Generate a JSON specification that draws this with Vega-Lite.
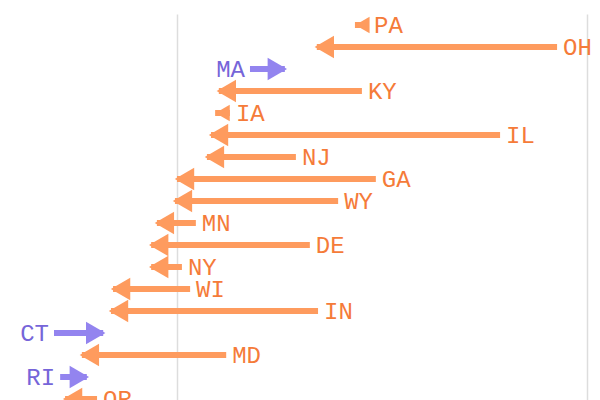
{
  "$schema": "https://vega.github.io/schema/vega-lite/v6.json",
  "width": 600,
  "height": 396,
  "autosize": "none",
  "padding": {"left": 0, "top": 14, "right": 0, "bottom": 0},
  "config": {"view": {"stroke": null}},
  "data": {
    "values": [
      {"state": "PA", "start": 14.66, "end": 14.34},
      {"state": "OH", "start": 19.27, "end": 13.41},
      {"state": "MA", "start": 11.78, "end": 12.63},
      {"state": "KY", "start": 14.51, "end": 11.02},
      {"state": "IA", "start": 11.29, "end": 10.93},
      {"state": "IL", "start": 17.88, "end": 10.83},
      {"state": "NJ", "start": 12.90, "end": 10.73},
      {"state": "GA", "start": 14.85, "end": 10.00},
      {"state": "WY", "start": 13.93, "end": 9.95},
      {"state": "MN", "start": 10.46, "end": 9.51},
      {"state": "DE", "start": 13.24, "end": 9.37},
      {"state": "NY", "start": 10.12, "end": 9.37},
      {"state": "WI", "start": 10.32, "end": 8.44},
      {"state": "IN", "start": 13.44, "end": 8.39},
      {"state": "CT", "start": 7.00, "end": 8.20},
      {"state": "MD", "start": 11.20, "end": 7.68},
      {"state": "RI", "start": 7.15, "end": 7.80},
      {"state": "OR", "start": 8.05, "end": 7.27}
    ]
  },
  "encoding": {
    "y": {
      "field": "state",
      "type": "nominal",
      "sort": null,
      "scale": {"paddingInner": 0, "paddingOuter": 0},
      "axis": null
    }
  },
  "layer": [
    {
      "mark": {"type": "rule", "strokeWidth": 6},
      "encoding": {
        "x": {
          "field": "start",
          "type": "quantitative",
          "scale": {"domain": [5.683, 20.317], "nice": false, "zero": false},
          "axis": {"values": [10, 20], "grid": true, "gridColor": "#dddddd", "gridWidth": 1.5, "labels": false, "ticks": false, "domain": false, "title": null}
        },
        "x2": {"field": "end"},
        "color": {
          "condition": {"test": "datum.end < datum.start", "value": "#fe9b5e"},
          "value": "#9384ef"
        }
      }
    },
    {
      "transform": [{"filter": "datum.end < datum.start"}],
      "mark": {"type": "point", "shape": "triangle-left", "filled": true, "opacity": 1, "xOffset": 7.5, "color": "#fe9b5e"},
      "encoding": {
        "x": {"field": "end", "type": "quantitative"},
        "size": {"condition": {"test": "abs(datum.end - datum.start) < 0.4", "value": 270}, "value": 500}
      }
    },
    {
      "transform": [{"filter": "datum.end > datum.start"}],
      "mark": {"type": "point", "shape": "triangle-right", "filled": true, "opacity": 1, "xOffset": -7.5, "color": "#9384ef", "size": 500},
      "encoding": {
        "x": {"field": "end", "type": "quantitative"}
      }
    },
    {
      "transform": [{"filter": "datum.end < datum.start"}],
      "mark": {"type": "text", "align": "left", "baseline": "middle", "dx": 6, "dy": 1, "font": "Liberation Mono", "fontSize": 24, "color": "#f57b39"},
      "encoding": {
        "x": {"field": "start", "type": "quantitative"},
        "text": {"field": "state"}
      }
    },
    {
      "transform": [{"filter": "datum.end > datum.start"}],
      "mark": {"type": "text", "align": "right", "baseline": "middle", "dx": -5, "dy": 1, "font": "Liberation Mono", "fontSize": 24, "color": "#7665d9"},
      "encoding": {
        "x": {"field": "start", "type": "quantitative"},
        "text": {"field": "state"}
      }
    }
  ]
}
